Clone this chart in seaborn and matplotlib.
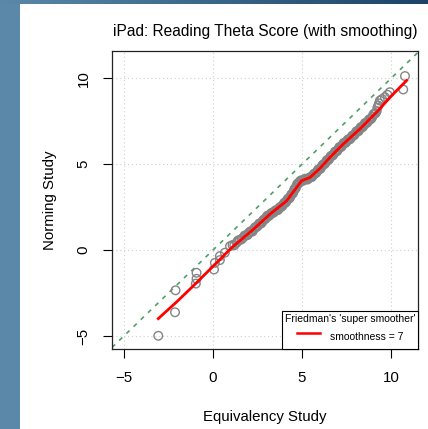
import numpy as np
import pandas as pd
import matplotlib
matplotlib.use("Agg")
import matplotlib.pyplot as plt
import seaborn as sns
from matplotlib.lines import Line2D
from matplotlib.patches import Rectangle
from matplotlib.colors import LinearSegmentedColormap

# ---- data ----
equiv_x = [-3.07, -2.13, -2.10, -0.96, -0.92, -0.92, 0.06, 0.11, 0.39, 0.39, 0.67,
           0.96, 1.10, 1.33, 1.50, 1.70, 1.85, 2.00, 2.15, 2.30, 2.42, 2.55, 2.66,
           2.78, 2.90, 3.00, 3.10, 3.22, 3.34, 3.45, 3.58, 3.70, 3.82, 3.95, 4.05,
           4.15, 4.25, 4.35, 4.45, 4.55, 4.62, 4.70, 4.78, 4.88, 5.00, 5.12, 5.25,
           5.38, 5.50, 5.62, 5.75, 5.86, 5.98, 6.10, 6.22, 6.34, 6.45, 6.57, 6.68,
           6.80, 6.92, 7.04, 7.16, 7.28, 7.40, 7.52, 7.64, 7.76, 7.88, 8.00, 8.12,
           8.24, 8.36, 8.48, 8.60, 8.72, 8.84, 8.96, 9.08, 9.20, 9.29, 9.38, 9.66,
           9.94, 10.69, 10.79]
norming_y = [-4.99, -3.62, -2.34, -1.95, -1.67, -1.32, -1.13, -0.74, -0.58, -0.35, -0.15,
             0.23, 0.30, 0.43, 0.60, 0.73, 0.85, 0.98, 1.10, 1.22, 1.35, 1.45, 1.55,
             1.66, 1.80, 1.90, 2.00, 2.08, 2.17, 2.25, 2.32, 2.40, 2.52, 2.65, 2.78,
             2.88, 3.00, 3.12, 3.28, 3.45, 3.60, 3.75, 3.88, 4.00, 4.06, 4.10, 4.14,
             4.18, 4.25, 4.35, 4.48, 4.60, 4.72, 4.85, 5.00, 5.12, 5.25, 5.38, 5.50,
             5.62, 5.75, 5.88, 6.00, 6.12, 6.25, 6.35, 6.45, 6.55, 6.68, 6.80, 6.92,
             7.04, 7.15, 7.28, 7.40, 7.52, 7.62, 7.78, 7.95, 8.10, 8.42, 8.71, 8.91,
             9.20, 9.36, 10.14]

# further points of the dense band
equiv_x2 = [1.20, 1.40, 1.60, 1.78, 1.95, 2.08, 2.22, 2.36, 2.48, 2.60, 2.72, 2.84,
            2.95, 3.05, 3.16, 3.28, 3.40, 3.52, 3.64, 3.76, 3.88, 4.00, 4.10, 4.20,
            4.30, 4.40, 4.50, 4.58, 4.66, 4.74, 4.83, 4.94, 5.06, 5.18, 5.31, 5.44,
            5.56, 5.68, 5.80, 5.92, 6.04, 6.16, 6.28, 6.40, 6.51, 6.62, 6.74, 6.86,
            6.98, 7.10, 7.22, 7.34, 7.46, 7.58, 7.70, 7.82, 7.94, 8.06, 8.18, 8.30,
            8.42, 8.54, 8.66, 8.78, 8.90, 9.02, 9.14, 9.24, 9.33, 9.50, 9.80]
norming_y2 = [0.28, 0.55, 0.62, 0.85, 0.88, 1.08, 1.08, 1.32, 1.36, 1.55, 1.56, 1.76,
              1.82, 2.00, 2.00, 2.16, 2.18, 2.32, 2.33, 2.50, 2.55, 2.75, 2.78, 2.98,
              3.02, 3.24, 3.32, 3.56, 3.62, 3.86, 3.90, 4.06, 4.04, 4.16, 4.11, 4.24,
              4.26, 4.45, 4.50, 4.70, 4.74, 4.96, 5.02, 5.24, 5.27, 5.48, 5.52, 5.74,
              5.77, 6.00, 6.02, 6.24, 6.25, 6.44, 6.46, 6.66, 6.70, 6.92, 6.93, 7.16,
              7.17, 7.40, 7.42, 7.62, 7.66, 7.92, 7.98, 8.30, 8.55, 8.80, 9.05]

smooth_x = [-3.07, -2.0, -1.0, 0.0, 1.05, 2.27, 3.2, 4.14, 4.7, 4.98, 5.45, 6.0,
            6.57, 7.32, 8.26, 9.2, 10.04, 10.88]
smooth_y = [-3.99, -2.98, -1.98, -0.95, 0.14, 1.21, 2.09, 2.87, 3.65, 4.04, 4.23, 4.75,
            5.40, 6.18, 7.06, 8.04, 9.00, 9.88]

axis_ticks = [-5, 0, 5, 10]
title_text = "iPad: Reading Theta Score (with smoothing)"
x_label = "Equivalency Study"
y_label = "Norming Study"
legend_title = "Friedman's 'super smoother'"
legend_label = "smoothness = 7"

pts = pd.DataFrame({"x": equiv_x + equiv_x2, "y": norming_y + norming_y2})
sm = pd.DataFrame({"x": smooth_x, "y": smooth_y})

plt.rcParams["font.family"] = ["Liberation Sans", "DejaVu Sans"]

W, H = 428, 429
fig = plt.figure(figsize=(W / 100, H / 100), dpi=100)
fig.patch.set_facecolor("white")

# slide background strips
fig.patches.append(Rectangle((0, 0), 20 / W, 1, transform=fig.transFigure,
                             facecolor="#5b87a8", edgecolor="none", zorder=-5))
bg = fig.add_axes([0, 1 - 4 / H, 1, 4 / H], zorder=-4)
grad = np.linspace(0, 1, 256)[None, :]
cm = LinearSegmentedColormap.from_list("bg", ["#5b87a8", "#3a6688", "#1d4466"])
bg.imshow(grad, aspect="auto", cmap=cm, extent=[0, 1, 0, 1])
bg.set_axis_off()

left, right, top, bottom = 112, 418, 51, 349
ax = fig.add_axes([left / W, 1 - bottom / H, (right - left) / W, (bottom - top) / H])

# grid
for t in axis_ticks:
    ax.axvline(t, color="#cfcfcf", lw=0.8, ls=(0, (1, 2.5)), zorder=0)
    ax.axhline(t, color="#cfcfcf", lw=0.8, ls=(0, (1, 2.5)), zorder=0)

ax.axline((0, 0), slope=1, color="#4f9f6a", lw=1.2, ls=(0, (2.6, 3.4)), zorder=1)

sns.scatterplot(data=pts, x="x", y="y", ax=ax, marker="o", s=38,
                facecolor="none", edgecolor="#858585", linewidth=1.0, zorder=2, legend=False)
sns.lineplot(data=sm, x="x", y="y", ax=ax, color="red", lw=2.0, sort=False,
             estimator=None, zorder=3, legend=False)

ax.set_xlim(-5.67, 11.52)
ax.set_ylim(-5.76, 11.6)
ax.set_xticks(axis_ticks)
ax.set_yticks(axis_ticks)
ax.tick_params(axis="both", direction="out", length=6.5, width=0.8, color="black",
               labelsize=10.8, pad=9)
for lab in ax.get_yticklabels():
    lab.set_rotation(90)
    lab.set_va("center")
for sp in ax.spines.values():
    sp.set_color("#222222")
    sp.set_linewidth(0.9)

ax.set_xlabel(x_label, fontsize=10.8, labelpad=18)
ax.set_ylabel(y_label, fontsize=10.8, labelpad=14)
ax.set_title(title_text, fontsize=11.2, pad=11)

handle = Line2D([0], [0], color="red", lw=1.8)
leg = ax.legend([handle], [legend_label], title=legend_title, loc="lower right",
                bbox_to_anchor=(1, 0), borderaxespad=0, fontsize=7.5, title_fontsize=7.5,
                fancybox=False, framealpha=1, edgecolor="black", handlelength=2.2,
                handletextpad=0.9, borderpad=0.25, labelspacing=0.3, handleheight=2.5)
leg.get_frame().set_linewidth(0.8)
leg.set_zorder(5)

fig.savefig("out.png", dpi=100)
